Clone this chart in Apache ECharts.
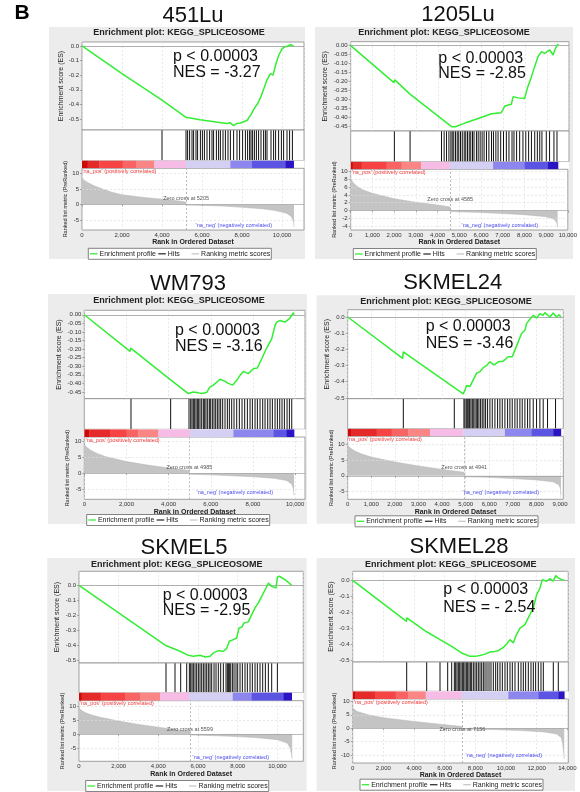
<!DOCTYPE html>
<html><head><meta charset="utf-8">
<script src="https://cdn.jsdelivr.net/npm/echarts@6/dist/echarts.min.js"></script>
<style>html,body{margin:0;padding:0;background:#fff}#c{width:580px;height:792px}</style>
</head><body><div id="c"></div>
<script>
// ---------------- DATA ----------------
const cellLines = ['451Lu', '1205Lu', 'WM793', 'SKMEL24', 'SKMEL5', 'SKMEL28'];
const plotTitle = 'Enrichment plot: KEGG_SPLICEOSOME';
const pValueText = 'p < 0.00003';
const nesText = ['NES = -3.27', 'NES = -2.85', 'NES = -3.16', 'NES = -3.46', 'NES = -2.95', 'NES = - 2.54'];
const zeroCross = [5205, 4585, 4985, 4941, 5599, 7156];
const legendNames = ['Enrichment profile', 'Hits', 'Ranking metric scores'];
const barColors = ['#cc0a0a', '#e52a2a', '#f64444', '#f86464', '#f98585', '#f6bce6', '#d3d0f4', '#8c86ee', '#5c54e2', '#2a14c4'];

// 451Lu
const es451LuX = [0, 2000, 4000, 4050, 5200, 5900, 6700, 7250, 7400, 7580, 7750, 7920, 8250, 8450, 8600, 8800, 8950, 9100, 9250, 9420, 9550, 9620, 9700, 9850, 10000, 10150, 10300, 10420, 10580];
const es451LuY = [0, -0.19, -0.37, -0.365, -0.488, -0.505, -0.52, -0.53, -0.525, -0.545, -0.53, -0.527, -0.51, -0.47, -0.43, -0.39, -0.345, -0.29, -0.232, -0.19, -0.2, -0.2, -0.12, -0.06, -0.02, -0.005, 0.0, 0.008, 0];
const hits451Lu = [4000, 5200, 5280, 5380, 5500, 5580, 5700, 5780, 5920, 6020, 6120, 6250, 6380, 6500, 6580, 6720, 6830, 6920, 7050, 7170, 7300, 7420, 7580, 7750, 7880, 8030, 8170, 8280, 8380, 8450, 8530, 8620, 8720, 8830, 8950, 9080, 9170, 9250, 9450, 9580, 9680, 9830, 9970, 10080, 10250, 10380, 10520];
const rank451LuX = [0, 100, 300, 600, 1000, 1500, 2000, 3000, 4000, 5000, 5200, 5205, 6000, 7000, 8000, 9000, 9600, 10000, 10250, 10450, 10550, 10590, 10600];
const rank451LuY = [8.6, 7.8, 7.0, 6.0, 5.0, 3.9, 3.1, 2.3, 1.7, 1.0, 0.7, -0.2, -0.3, -0.5, -0.9, -1.4, -1.9, -2.4, -2.9, -3.8, -5, -6.2, -7.3];
const bar451Lu = [0, 283, 867, 2033, 2700, 3617, 5200, 7417, 8500, 10167, 10583];
const xTicks451Lu = [0, 2000, 4000, 6000, 8000, 10000];
const esTicks451Lu = [0, -0.1, -0.2, -0.3, -0.4, -0.5];
const rankTicks451Lu = [10, 5, 0, -5];

// 1205Lu
const es1205LuX = [0, 1980, 2020, 2700, 2730, 4620, 4800, 5230, 5840, 6450, 6900, 7060, 7360, 7440, 7670, 7970, 8090, 8280, 8580, 8740, 8890, 9120, 9270, 9380, 9470, 9520];
const es1205LuY = [0, -0.205, -0.19, -0.268, -0.257, -0.45, -0.45, -0.43, -0.405, -0.378, -0.372, -0.335, -0.325, -0.283, -0.29, -0.293, -0.237, -0.172, -0.06, -0.033, -0.043, -0.024, -0.052, -0.015, 0.004, 0.008];
const hits1205Lu = [2000, 2720, 4160, 4280, 4390, 4500, 4590, 4650, 4720, 4800, 4880, 4950, 5030, 5110, 5200, 5270, 5350, 5430, 5500, 5580, 5650, 5760, 5840, 5930, 6020, 6110, 6220, 6330, 6450, 6540, 6650, 6750, 6870, 7000, 7130, 7250, 7390, 7480, 7600, 7740, 7890, 8020, 8150, 8280, 8430, 8550, 8660, 8760, 8960, 9110, 9310, 9450];
const rank1205LuX = [0, 100, 300, 600, 1000, 2000, 3000, 4000, 4580, 4585, 6000, 7000, 8000, 9000, 9350, 9480, 9530];
const rank1205LuY = [8.3, 7.2, 6.2, 5.2, 4.4, 3.0, 2.1, 1.4, 0.9, -0.3, -0.5, -0.8, -1.1, -1.6, -2.2, -3.0, -4.3];
const bar1205Lu = [0, 91, 503, 1646, 2332, 3216, 4542, 6523, 7971, 9037, 9495];
const xTicks1205Lu = [0, 1000, 2000, 3000, 4000, 5000, 6000, 7000, 8000, 9000, 10000];
const esTicks1205Lu = [0, -0.05, -0.1, -0.15, -0.2, -0.25, -0.3, -0.35, -0.4, -0.45];
const rankTicks1205Lu = [10, 8, 6, 4, 2, 0, -2, -4];

// WM793
const esWM793X = [0, 2170, 2200, 4065, 4100, 4935, 5170, 5410, 5570, 5800, 5960, 6120, 6440, 6680, 6830, 7040, 7230, 7390, 7550, 7780, 8020, 8210, 8420, 8650, 8890, 9050, 9130, 9290, 9520, 9730, 9920, 9950];
const esWM793Y = [0, -0.213, -0.194, -0.376, -0.38, -0.459, -0.45, -0.455, -0.459, -0.453, -0.42, -0.41, -0.376, -0.388, -0.4, -0.41, -0.382, -0.353, -0.33, -0.343, -0.314, -0.31, -0.256, -0.194, -0.14, -0.062, -0.043, -0.033, -0.043, -0.023, 0.012, 0];
const hitsWM793 = [2215, 4097, 4967, 5047, 5110, 5173, 5236, 5300, 5363, 5426, 5490, 5569, 5648, 5711, 5774, 5853, 5933, 5996, 6075, 6154, 6233, 6312, 6391, 6470, 6565, 6676, 6787, 6882, 6992, 7103, 7230, 7356, 7483, 7609, 7736, 7863, 7973, 8100, 8211, 8337, 8464, 8574, 8701, 8812, 8922, 9049, 9160, 9271, 9381, 9492, 9619, 9730, 9841];
const rankWM793X = [0, 100, 300, 600, 1000, 2000, 3000, 4000, 4980, 4985, 6000, 7000, 8000, 9000, 9600, 9850, 9920, 9950];
const rankWM793Y = [9.1, 8.3, 7.3, 6.3, 5.3, 3.7, 2.6, 1.7, 0.9, -0.3, -0.5, -0.8, -1.1, -1.6, -2.3, -3.5, -5, -7];
const barWM793 = [0, 237, 1218, 2009, 2563, 3512, 5015, 7072, 8970, 9603, 9950];
const xTicksWM793 = [0, 2000, 4000, 6000, 8000, 10000];
const esTicksWM793 = [0, -0.05, -0.1, -0.15, -0.2, -0.25, -0.3, -0.35, -0.4, -0.45];
const rankTicksWM793 = [10, 5, 0, -5];

// SKMEL24
const esSKMEL24X = [0, 2330, 2358, 4519, 4547, 4900, 4970, 5040, 5180, 5320, 5460, 5605, 5747, 5888, 6029, 6213, 6382, 6594, 6806, 6975, 7088, 7229, 7370, 7512, 7582, 7723, 7864, 8006, 8147, 8288, 8359, 8570, 8711, 8852, 8952, 9040];
const esSKMEL24Y = [0, -0.256, -0.215, -0.436, -0.43, -0.475, -0.451, -0.424, -0.43, -0.389, -0.348, -0.338, -0.313, -0.3, -0.277, -0.297, -0.277, -0.273, -0.246, -0.246, -0.205, -0.154, -0.102, -0.082, -0.041, -0.014, 0.01, -0.006, 0.02, 0.01, 0.027, 0, 0.025, 0, 0.014, 0];
const hitsSKMEL24 = [2358, 4519, 4928, 4970, 5027, 5069, 5111, 5168, 5224, 5281, 5323, 5394, 5450, 5507, 5563, 5634, 5704, 5775, 5846, 5930, 6029, 6128, 6241, 6354, 6453, 6552, 6665, 6778, 6876, 6975, 7088, 7187, 7300, 7399, 7512, 7625, 7724, 7865, 8006, 8147, 8288, 8472, 8811];
const rankSKMEL24X = [0, 100, 300, 600, 1000, 2000, 3000, 4000, 4935, 4941, 6000, 7000, 8000, 8700, 8950, 9020, 9040];
const rankSKMEL24Y = [9.5, 8.8, 7.8, 6.8, 5.9, 4.3, 3.1, 2.0, 1.1, -0.3, -0.5, -0.9, -1.3, -1.9, -2.8, -4, -6.3];
const barSKMEL24 = [0, 141, 1228, 1864, 2570, 3488, 4900, 6665, 7794, 8712, 9037];
const xTicksSKMEL24 = [0, 1000, 2000, 3000, 4000, 5000, 6000, 7000, 8000, 9000];
const esTicksSKMEL24 = [0, -0.1, -0.2, -0.3, -0.4, -0.5];
const rankTicksSKMEL24 = [10, 5, 0, -5];

// SKMEL5
const esSKMEL5X = [0, 4380, 4390, 5093, 5513, 5766, 6102, 6354, 6438, 6606, 6774, 7026, 7279, 7447, 7581, 7783, 7951, 8069, 8203, 8321, 8539, 8707, 8875, 9044, 9212, 9430, 9548, 9716, 9935, 10002, 10103, 10389, 10725];
const esSKMEL5Y = [0, -0.4, -0.392, -0.438, -0.465, -0.471, -0.465, -0.476, -0.482, -0.471, -0.449, -0.434, -0.438, -0.42, -0.372, -0.361, -0.35, -0.283, -0.279, -0.25, -0.243, -0.195, -0.15, -0.117, -0.073, -0.018, 0.015, -0.007, -0.018, 0.053, 0.06, 0.038, 0];
const hitsSKMEL5 = [4387, 4841, 5127, 5430, 5564, 5631, 5699, 5766, 5850, 5934, 6018, 6102, 6186, 6270, 6354, 6438, 6522, 6606, 6690, 6808, 6909, 7026, 7144, 7279, 7413, 7480, 7531, 7581, 7649, 7733, 7817, 7917, 8002, 8119, 8237, 8371, 8489, 8624, 8741, 8876, 8993, 9128, 9262, 9397, 9548, 9716, 10002];
const rankSKMEL5X = [0, 100, 300, 600, 1000, 2000, 3000, 4000, 5000, 5595, 5599, 7000, 8000, 9000, 10000, 10500, 10650, 10720, 10750];
const rankSKMEL5Y = [9.5, 8.7, 7.8, 7.0, 6.2, 4.7, 3.5, 2.5, 1.5, 1.0, -0.3, -0.6, -0.9, -1.3, -2.0, -3.2, -5, -7.5, -9];
const barSKMEL5 = [0, 134, 1093, 2320, 3076, 4085, 5547, 7750, 8708, 10305, 10725];
const xTicksSKMEL5 = [0, 2000, 4000, 6000, 8000, 10000];
const esTicksSKMEL5 = [0, -0.1, -0.2, -0.3, -0.4, -0.5];
const rankTicksSKMEL5 = [10, 5, 0, -5];

// SKMEL28
const esSKMEL28X = [0, 3510, 3530, 4820, 4830, 5696, 6457, 7109, 7652, 7978, 8305, 8631, 8957, 9283, 9500, 9826, 10043, 10261, 10478, 10630, 10913, 11239, 11500, 11783, 12000, 12218, 12370, 12500, 12652, 12870, 13087, 13240, 13413, 13630, 13804];
const esSKMEL28Y = [0, -0.255, -0.234, -0.32, -0.313, -0.369, -0.411, -0.452, -0.473, -0.473, -0.467, -0.459, -0.446, -0.442, -0.438, -0.417, -0.396, -0.369, -0.39, -0.349, -0.297, -0.276, -0.224, -0.172, -0.089, -0.048, 0.004, 0.015, -0.006, 0.01, -0.006, 0.029, 0.015, 0.004, 0];
const hitsSKMEL28 = [3522, 4826, 5696, 6196, 6457, 6631, 6718, 6805, 6892, 6979, 7066, 7152, 7239, 7326, 7413, 7500, 7587, 7674, 7761, 7870, 7979, 8087, 8196, 8305, 8413, 8522, 8631, 8761, 8892, 9022, 9174, 9326, 9457, 9609, 9761, 9935, 10087, 10261, 10413, 10587, 10805, 10979, 11131, 11283, 11457, 11631, 11783, 11935, 12109, 12283, 12435, 13087, 13413];
const rankSKMEL28X = [0, 100, 300, 1000, 2000, 4000, 6000, 7150, 7156, 9000, 11000, 12500, 13300, 13600, 13700, 13780, 13800];
const rankSKMEL28Y = [7.5, 6.8, 6.2, 5.0, 3.9, 2.5, 1.3, 0.6, -0.3, -0.5, -0.9, -1.4, -2.2, -3.5, -6, -10, -11.5];
const barSKMEL28 = [0, 152, 1457, 2804, 3631, 4761, 7109, 10152, 12109, 13413, 13804];
const xTicksSKMEL28 = [0, 2000, 4000, 6000, 8000, 10000, 12000, 14000];
const esTicksSKMEL28 = [0, -0.1, -0.2, -0.3, -0.4, -0.5];
const rankTicksSKMEL28 = [10, 5, 0, -5, -10];

// ---------------- ASSEMBLY ----------------
const panelData = [
  {esX: es451LuX, esY: es451LuY, hits: hits451Lu, rankX: rank451LuX, rankY: rank451LuY, bar: bar451Lu, xTicks: xTicks451Lu, esTicks: esTicks451Lu, rankTicks: rankTicks451Lu},
  {esX: es1205LuX, esY: es1205LuY, hits: hits1205Lu, rankX: rank1205LuX, rankY: rank1205LuY, bar: bar1205Lu, xTicks: xTicks1205Lu, esTicks: esTicks1205Lu, rankTicks: rankTicks1205Lu},
  {esX: esWM793X, esY: esWM793Y, hits: hitsWM793, rankX: rankWM793X, rankY: rankWM793Y, bar: barWM793, xTicks: xTicksWM793, esTicks: esTicksWM793, rankTicks: rankTicksWM793},
  {esX: esSKMEL24X, esY: esSKMEL24Y, hits: hitsSKMEL24, rankX: rankSKMEL24X, rankY: rankSKMEL24Y, bar: barSKMEL24, xTicks: xTicksSKMEL24, esTicks: esTicksSKMEL24, rankTicks: rankTicksSKMEL24},
  {esX: esSKMEL5X, esY: esSKMEL5Y, hits: hitsSKMEL5, rankX: rankSKMEL5X, rankY: rankSKMEL5Y, bar: barSKMEL5, xTicks: xTicksSKMEL5, esTicks: esTicksSKMEL5, rankTicks: rankTicksSKMEL5},
  {esX: esSKMEL28X, esY: esSKMEL28Y, hits: hitsSKMEL28, rankX: rankSKMEL28X, rankY: rankSKMEL28Y, bar: barSKMEL28, xTicks: xTicksSKMEL28, esTicks: esTicksSKMEL28, rankTicks: rankTicksSKMEL28}
];

// layout (pixels) and axis extents
const LAYOUT = [
  {left:82, right:304, esTop:42, esBottom:130, hitsBottom:160.5, cbBottom:168.3, rankBottom:230, xMax:11100, xInt:2000, esMin:-0.575, esMax:0.027, esDec:1, rankMin:-8.2, rankMax:11.6,
   bg:[49,27,256,232], title:[193,16], sub:[179,33], ptext:[173,57,73], legend:[88.3,253.8], naPos:[82.5,171.8], naNeg:[272,225], zcY:1.85, esGap:17.5, rankGap:13.5, xGap:6.5},
  {left:350.7, right:569, esTop:41.7, esBottom:131, hitsBottom:161.7, cbBottom:169.3, rankBottom:230, xMax:10000, xInt:1000, esMin:-0.474, esMax:0.022, esDec:2, rankMin:-5.04, rankMax:10.6,
   bg:[315,27,258,232], title:[458,15], sub:[444,33], ptext:[438.3,59,74], legend:[353.3,254], naPos:[351.7,172.6], naNeg:[538,225.7], zcY:2.8, esGap:22, rankGap:13, xGap:6.5},
  {left:84.3, right:305, esTop:310.3, esBottom:398.7, hitsBottom:429.3, cbBottom:437, rankBottom:499.3, xMax:10470, xInt:2000, esMin:-0.489, esMax:0.026, esDec:2, rankMin:-8.25, rankMax:11.5,
   bg:[48,294,259,230], title:[188,284], sub:[179,301], ptext:[175,330.3,347], legend:[86.7,520], naPos:[85.7,440.3], naNeg:[273,492], zcY:1.9, esGap:21.5, rankGap:11.5, xGap:6.5},
  {left:347.7, right:563.3, esTop:309.7, esBottom:398.7, hitsBottom:428.7, cbBottom:436.3, rankBottom:499.3, xMax:9140, xInt:1000, esMin:-0.505, esMax:0.045, esDec:1, rankMin:-7.4, rankMax:12.4,
   bg:[316.7,295.3,258.3,228.4], title:[452.7,282.7], sub:[446,301.3], ptext:[425.7,327,343.7], legend:[355,521.3], naPos:[348,439.7], naNeg:[539,492], zcY:2.7, esGap:17.5, rankGap:12.5, xGap:7.5},
  {left:79, right:303.3, esTop:571.3, esBottom:663, hitsBottom:692.5, cbBottom:700.7, rankBottom:761.3, xMax:11310, xInt:2000, esMin:-0.516, esMax:0.093, esDec:1, rankMin:-9.8, rankMax:12.05,
   bg:[47.3,558,259.4,233], title:[184,548], sub:[176.7,564.7], ptext:[162.7,595.7,610.7], legend:[85.7,786], naPos:[80,703.7], naNeg:[269,757.3], zcY:1.5, esGap:18, rankGap:12, xGap:9},
  {left:352.7, right:568.3, esTop:571.3, esBottom:662, hitsBottom:691.3, cbBottom:699, rankBottom:763, xMax:14065, xInt:2000, esMin:-0.508, esMax:0.056, esDec:1, rankMin:-13, rankMax:10.9,
   bg:[316.7,558,258.3,233], title:[459,547.3], sub:[450.7,564.7], ptext:[443.3,589.7,608], legend:[360,784.7], naPos:[354,702], naNeg:[542,755.3], zcY:-0.5, esGap:18, rankGap:14, xGap:5.5}
];

const FONT = '"Liberation Sans", Arial, sans-serif';
const GREEN = '#33ee33';
const grids = [], xAxes = [], yAxes = [], series = [], graphics = [];

graphics.push({type:'text', x:22, y:13, style:{text:'B', fontSize:21, fontWeight:'bold', fontFamily:FONT, fill:'#000', align:'center', verticalAlign:'middle'}});

function hiddenX(gi, L) {
  return {type:'value', gridIndex:gi, min:0, max:L.xMax, interval:L.xInt, axisLine:{show:false}, axisTick:{show:false}, axisLabel:{show:false}, splitLine:{show:false}};
}
function hiddenY(gi) {
  return {type:'value', gridIndex:gi, min:0, max:1, axisLine:{show:false}, axisTick:{show:false}, axisLabel:{show:false}, splitLine:{show:false}};
}

panelData.forEach((D, i) => {
  const L = LAYOUT[i];
  const g0 = i * 4;
  const w = L.right - L.left;
  const gridBase = {left:L.left, width:w, show:true, backgroundColor:'#fff', borderColor:'#8a8a8a', borderWidth:0.8};
  grids.push(Object.assign({}, gridBase, {top:L.esTop, height:L.esBottom - L.esTop}));
  grids.push(Object.assign({}, gridBase, {top:L.esBottom, height:L.hitsBottom - L.esBottom}));
  grids.push(Object.assign({}, gridBase, {top:L.hitsBottom, height:L.cbBottom - L.hitsBottom, borderWidth:0}));
  grids.push(Object.assign({}, gridBase, {top:L.cbBottom, height:L.rankBottom - L.cbBottom}));

  // x axes
  const xes = hiddenX(g0, L);
  xes.splitLine = {show:true, lineStyle:{color:'#dedede', type:[2,2], width:0.7}};
  xAxes.push(xes);
  xAxes.push(hiddenX(g0 + 1, L));
  xAxes.push(hiddenX(g0 + 2, L));
  xAxes.push({type:'value', gridIndex:g0 + 3, min:0, max:L.xMax, interval:L.xInt,
    name:'Rank in Ordered Dataset', nameLocation:'middle', nameGap:L.xGap,
    nameTextStyle:{fontSize:7, fontWeight:'bold', color:'#222', fontFamily:FONT},
    axisLine:{show:false},
    axisTick:{show:true, length:2, lineStyle:{color:'#777', width:0.6}, customValues:D.xTicks},
    axisLabel:{fontSize:6, color:'#333', margin:2, fontFamily:FONT, customValues:D.xTicks,
      formatter: v => Number(v).toLocaleString('en-US')},
    splitLine:{show:true, lineStyle:{color:'#dedede', type:[2,2], width:0.7}}});

  // y axes
  yAxes.push({type:'value', gridIndex:g0, min:L.esMin, max:L.esMax,
    name:'Enrichment score (ES)', nameLocation:'middle', nameGap:L.esGap,
    nameTextStyle:{fontSize:7, color:'#222', fontFamily:FONT},
    axisLine:{show:false},
    axisTick:{show:true, length:2, lineStyle:{color:'#777', width:0.6}, customValues:D.esTicks},
    axisLabel:{fontSize:6, color:'#333', margin:3, fontFamily:FONT, customValues:D.esTicks,
      formatter: v => Number(v).toFixed(L.esDec)},
    splitLine:{show:false}});
  yAxes.push(hiddenY(g0 + 1));
  yAxes.push(hiddenY(g0 + 2));
  yAxes.push({type:'value', gridIndex:g0 + 3, min:L.rankMin, max:L.rankMax,
    name:'Ranked list metric (PreRanked)', nameLocation:'middle', nameGap:L.rankGap,
    nameTextStyle:{fontSize:5.5, color:'#222', fontFamily:FONT},
    axisLine:{show:false},
    axisTick:{show:true, length:2, lineStyle:{color:'#777', width:0.6}, customValues:D.rankTicks},
    axisLabel:{fontSize:6, color:'#333', margin:3, fontFamily:FONT, customValues:D.rankTicks,
      formatter: v => String(v)},
    splitLine:{show:false}});

  // ES line
  series.push({type:'line', name:legendNames[0], xAxisIndex:g0, yAxisIndex:g0,
    data: D.esX.map((x, k) => [x, D.esY[k]]), showSymbol:false, symbol:'none',
    lineStyle:{color:GREEN, width:1.5}, itemStyle:{color:GREEN}, z:5,
    markLine:{silent:true, symbol:['none','none'], label:{show:false},
      lineStyle:{color:'#9a9a9a', type:'solid', width:0.8}, data:[{yAxis:0}]}});

  // hits
  series.push({type:'custom', name:legendNames[1], xAxisIndex:g0 + 1, yAxisIndex:g0 + 1,
    data: D.hits.map(h => [h, 1]), encode:{x:0, y:1}, clip:true,
    renderItem: (params, api) => {
      const top = api.coord([api.value(0), 0.99]);
      const bot = api.coord([api.value(0), 0.01]);
      return {type:'line', shape:{x1:top[0], y1:top[1], x2:top[0], y2:bot[1]},
        style:{stroke:'#111', lineWidth:1}};
    }});

  // colour bar
  const cbData = [];
  for (let k = 0; k < D.bar.length - 1; k++) cbData.push([D.bar[k], D.bar[k + 1], k]);
  series.push({type:'custom', xAxisIndex:g0 + 2, yAxisIndex:g0 + 2,
    data: cbData, encode:{x:[0,1]}, clip:true,
    renderItem: (params, api) => {
      const p0 = api.coord([api.value(0), 1]);
      const p1 = api.coord([api.value(1), 0]);
      return {type:'rect', shape:{x:p0[0], y:p0[1], width:p1[0] - p0[0] + 0.3, height:p1[1] - p0[1]},
        style:{fill:barColors[api.value(2)]}};
    }});

  // ranked metric
  const gridMarks = D.rankTicks.filter(v => v !== 0).map(v => ({yAxis:v, lineStyle:{color:'#dedede', type:[2,2], width:0.7}}));
  series.push({type:'line', name:legendNames[2], xAxisIndex:g0 + 3, yAxisIndex:g0 + 3,
    data: D.rankX.map((x, k) => [x, D.rankY[k]]), showSymbol:false, symbol:'none',
    lineStyle:{color:'#b5b5b5', width:0.5}, areaStyle:{color:'#c4c4c4', opacity:1}, itemStyle:{color:'#c4c4c4'},
    markLine:{silent:true, symbol:['none','none'], label:{show:false},
      data: gridMarks.concat([
        {yAxis:0, lineStyle:{color:'#a0a0a0', type:'solid', width:0.7}},
        {xAxis:zeroCross[i], lineStyle:{color:'#a8a8a8', type:[2,2], width:0.8}}
      ])},
    markPoint:{silent:true, symbol:'circle', symbolSize:0,
      data:[{coord:[zeroCross[i], L.zcY], value:zeroCross[i]}],
      label:{show:true, position:'inside', formatter:'Zero cross at ' + zeroCross[i], fontSize:5.5, color:'#555', fontFamily:FONT}}});

  // background + texts
  graphics.push({type:'rect', z:-10, shape:{x:L.bg[0], y:L.bg[1], width:L.bg[2], height:L.bg[3]}, style:{fill:'#ececec'}});
  graphics.push({type:'text', x:L.title[0], y:L.title[1], style:{text:cellLines[i], fontSize:22, fontFamily:FONT, fill:'#111', align:'center', verticalAlign:'middle'}});
  graphics.push({type:'text', x:L.sub[0], y:L.sub[1], style:{text:plotTitle, fontSize:9, fontWeight:'bold', fontFamily:FONT, fill:'#222', align:'center', verticalAlign:'middle'}});
  graphics.push({type:'text', z:20, x:L.ptext[0], y:L.ptext[1], style:{text:pValueText, fontSize:16, fontFamily:FONT, fill:'#111', align:'left', verticalAlign:'middle'}});
  graphics.push({type:'text', z:20, x:L.ptext[0], y:L.ptext[2], style:{text:nesText[i], fontSize:16, fontFamily:FONT, fill:'#111', align:'left', verticalAlign:'middle'}});
  graphics.push({type:'text', z:20, x:L.naPos[0], y:L.naPos[1], style:{text:"'na_pos' (positively correlated)", fontSize:5.5, fontFamily:FONT, fill:'#f03a3a', align:'left', verticalAlign:'middle'}});
  graphics.push({type:'text', z:20, x:L.naNeg[0], y:L.naNeg[1], style:{text:"'na_neg' (negatively correlated)", fontSize:5.5, fontFamily:FONT, fill:'#4a4af0', align:'right', verticalAlign:'middle'}});

  // legend box
  const lx = L.legend[0], ly = L.legend[1];
  graphics.push({type:'rect', z:20, shape:{x:lx, y:ly - 5.5, width:183, height:11}, style:{fill:'#fff', stroke:'#666', lineWidth:0.8}});
  const items = [[1.7, GREEN, legendNames[0]], [70, '#333', legendNames[1]], [103.3, '#c8c8c8', legendNames[2]]];
  items.forEach(([ox, col, txt]) => {
    graphics.push({type:'line', z:21, shape:{x1:lx + ox, y1:ly, x2:lx + ox + 7.5, y2:ly}, style:{stroke:col, lineWidth:1.3}});
    graphics.push({type:'text', z:21, x:lx + ox + 9.5, y:ly, style:{text:txt, fontSize:7, fontFamily:FONT, fill:'#222', align:'left', verticalAlign:'middle'}});
  });
});

const chart = echarts.init(document.getElementById('c'), null, {renderer:'canvas'});
chart.setOption({
  animation:false,
  backgroundColor:'#fff',
  textStyle:{fontFamily:FONT},
  grid: grids,
  xAxis: xAxes,
  yAxis: yAxes,
  series: series,
  graphic: {elements: graphics}
});
</script></body></html>
